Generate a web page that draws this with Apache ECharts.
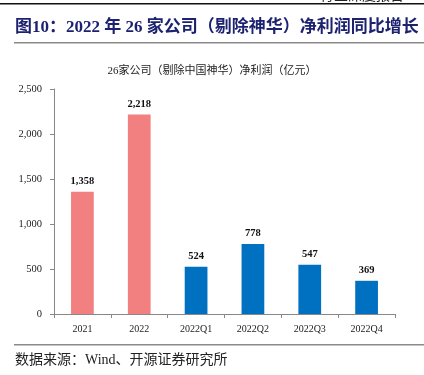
<!DOCTYPE html>
<html>
<head>
<meta charset="utf-8">
<script src="https://cdn.jsdelivr.net/npm/echarts@6/dist/echarts.min.js"></script>
<style>
  html, body { margin: 0; padding: 0; background: #fff; }
  #chart { width: 424px; height: 375px; }
</style>
</head>
<body>
<div id="chart"></div>
<script>
// 数据
const categories = ['2021', '2022', '2022Q1', '2022Q2', '2022Q3', '2022Q4']
const profitValues = [1358, 2218, 524, 778, 547, 369]
const barColors = ['#F28080', '#F28080', '#0070C0', '#0070C0', '#0070C0', '#0070C0']
const yTicks = [0, 500, 1000, 1500, 2000, 2500]

const serif = '"Liberation Serif", "Noto Sans CJK SC", serif'
const cjk = '"Liberation Serif", "Noto Sans CJK SC", sans-serif'

let myChart = echarts.init(document.getElementById('chart'), null, { renderer: 'canvas' })

let chartOption = {
  backgroundColor: '#fff',
  animation: false,
  title: {
    show: true,
    text: '26家公司（剔除中国神华）净利润（亿元）',
    left: 'center',
    top: 61,
    textStyle: {
      fontFamily: cjk,
      fontSize: 11,
      fontWeight: 'normal',
      color: '#222'
    }
  },
  grid: {
    left: 54,
    right: 29,
    top: 89,
    bottom: 61,
    containLabel: false
  },
  xAxis: {
    type: 'category',
    data: categories,
    axisLine: { lineStyle: { color: '#888', width: 1 } },
    axisTick: { show: true, lineStyle: { color: '#888' }, length: 4 },
    axisLabel: {
      fontFamily: serif,
      fontSize: 10,
      color: '#222',
      margin: 10
    }
  },
  yAxis: {
    type: 'value',
    min: yTicks[0],
    max: yTicks[yTicks.length - 1],
    interval: 500,
    axisLine: { show: true, lineStyle: { color: '#888', width: 1 } },
    axisTick: { show: true, lineStyle: { color: '#888' }, length: 4 },
    splitLine: { show: false },
    axisLabel: {
      fontFamily: serif,
      fontSize: 10.5,
      color: '#222',
      margin: 12,
      formatter: v => v.toLocaleString('en-US')
    }
  },
  series: [{
    type: 'bar',
    data: profitValues.map((v, i) => ({ value: v, itemStyle: { color: barColors[i] } })),
    barWidth: '40%',
    label: {
      show: true,
      position: 'top',
      distance: 5,
      fontFamily: serif,
      fontSize: 10.5,
      fontWeight: 'bold',
      color: '#111',
      formatter: p => p.value.toLocaleString('en-US')
    }
  }],
  graphic: [
    // 顶部页眉线
    { type: 'rect', shape: { x: 0, y: 3, width: 424, height: 1.5 }, style: { fill: '#111' } },
    {
      type: 'text', left: 320, top: -11,
      style: { text: '行业深度报告', fontSize: 14, fontFamily: cjk, fill: '#222' }
    },
    // 图标题
    {
      type: 'text', left: 15, top: 19,
      style: {
        text: '图10：2022 年 26 家公司（剔除神华）净利润同比增长',
        fontSize: 17, fontWeight: 'bold', fontFamily: serif, fill: '#1C2270'
      }
    },
    { type: 'rect', shape: { x: 14, y: 42, width: 410, height: 1.5 }, style: { fill: '#8A8A8A' } },
    // 数据来源
    { type: 'rect', shape: { x: 14, y: 344, width: 410, height: 1.5 }, style: { fill: '#8A8A8A' } },
    {
      type: 'text', left: 15, top: 353,
      style: { text: '数据来源：Wind、开源证券研究所', fontSize: 14, fontFamily: cjk, fill: '#222' }
    }
  ]
}

myChart.setOption(chartOption)
</script>
</body>
</html>
